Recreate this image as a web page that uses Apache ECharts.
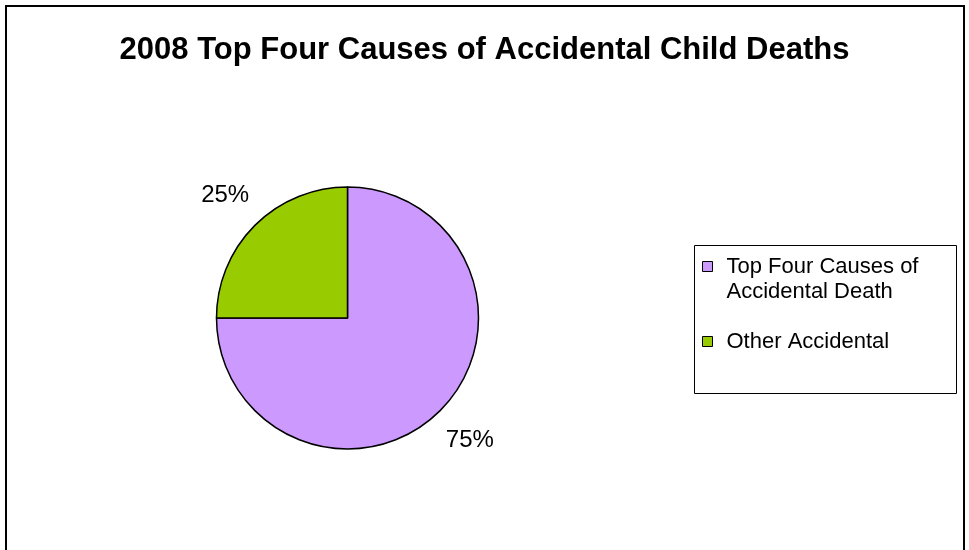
<!DOCTYPE html>
<html>
<head>
<meta charset="utf-8">
<script src="https://cdn.jsdelivr.net/npm/echarts@6/dist/echarts.min.js"></script>
<style>
html,body{margin:0;padding:0;background:#fff;}
#chart{width:969px;height:550px;}
</style>
</head>
<body>
<div id="chart"></div>
<script>
const titleText = '2008 Top Four Causes of Accidental Child Deaths';
const categories = ['Top Four Causes of Accidental Death', 'Other Accidental'];
const legendLabels = ['\nTop Four Causes of\nAccidental Death', 'Other Accidental'];
const values = [75, 25];
const colors = ['#CC99FF', '#99CC00'];

const chart = echarts.init(document.getElementById('chart'), null, {renderer: 'canvas'});
const FONT = 'Liberation Sans, Arial, sans-serif';

const option = {
  backgroundColor: '#fff',
  animation: false,
  title: {
    text: titleText,
    left: 'center',
    top: 30,
    textStyle: {fontFamily: FONT, fontSize: 31, fontWeight: 'bold', color: '#000'}
  },
  legend: {
    orient: 'vertical',
    left: 702,
    top: 229,
    padding: 0,
    itemGap: 25,
    itemWidth: 10,
    itemHeight: 10,
    icon: 'rect',
    itemStyle: {borderColor: '#000', borderWidth: 1},
    textStyle: {fontFamily: FONT, fontSize: 22, color: '#000', lineHeight: 25, padding: [0, 0, 0, 9]},
    formatter: function (name) {
      return legendLabels[categories.indexOf(name)];
    },
    data: categories
  },
  graphic: [
    {type: 'rect', shape: {x: 6, y: 6, width: 958, height: 700}, style: {fill: 'none', stroke: '#000', lineWidth: 2}, silent: true},
    {type: 'rect', shape: {x: 694.5, y: 245.5, width: 262, height: 148}, style: {fill: 'none', stroke: '#000', lineWidth: 1}, silent: true}
  ],
  series: [{
    type: 'pie',
    center: [347.5, 318],
    radius: 131,
    startAngle: 90,
    clockwise: true,
    color: colors,
    itemStyle: {borderColor: '#000', borderWidth: 1.5},
    label: {
      show: true,
      position: 'outside',
      fontFamily: FONT,
      fontSize: 24,
      color: '#000',
      distanceToLabelLine: 0,
      formatter: function (p) { return Math.round(p.percent) + '%'; }
    },
    labelLine: {show: false, length: 42, length2: 0},
    labelLayout: function () { return {align: 'center', verticalAlign: 'middle'}; },
    emphasis: {disabled: true},
    data: categories.map(function (c, i) { return {name: c, value: values[i]}; })
  }]
};
chart.setOption(option);
</script>
</body>
</html>
